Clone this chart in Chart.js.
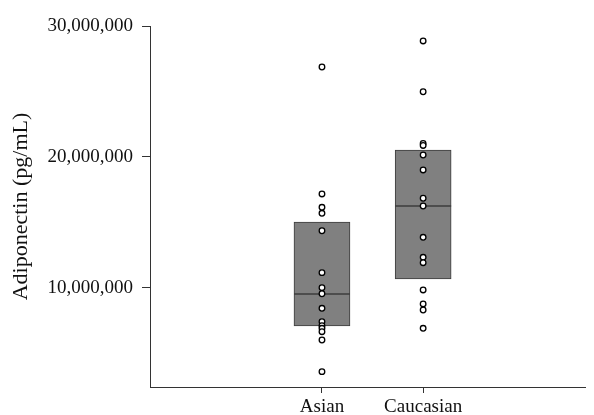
<!DOCTYPE html>
<html>
<head>
<meta charset="utf-8">
<script src="https://cdn.jsdelivr.net/npm/chart.js@4.4.0/dist/chart.umd.min.js"></script>
<style>
    html, body { margin: 0; padding: 0; background: #fff; }
    #wrap { width: 594px; height: 415px; }
</style>
</head>
<body>
<div id="wrap"><canvas id="chart"></canvas></div>
<script>
// values
const groups = ['Asian', 'Caucasian'];
const boxLow = [7.10e6, 10.69e6];
const boxHigh = [15.04e6, 20.53e6];
const medians = [9.54e6, 16.26e6];
const asianValues = [26.87e6, 17.18e6, 16.16e6, 15.70e6, 14.37e6, 11.17e6, 10.02e6, 9.56e6,
    8.45e6, 7.43e6, 7.12e6, 6.92e6, 6.66e6, 6.03e6, 3.61e6];
const caucasianValues = [28.86e6, 24.98e6, 21.03e6, 20.88e6, 20.15e6, 19.01e6, 16.85e6, 16.26e6,
    13.87e6, 12.34e6, 11.93e6, 9.85e6, 8.78e6, 8.32e6, 6.92e6];
const yTicks = [10000000, 20000000, 30000000];

const FONT = '"Liberation Serif", "Times New Roman", serif';
const AXIS = '#333333';

const pointData = [];
asianValues.forEach(v => pointData.push({ x: 1, y: v }));
caucasianValues.forEach(v => pointData.push({ x: 2, y: v }));

new Chart(document.getElementById('chart').getContext('2d'), {
    type: 'bar',
    data: {
        datasets: [
            {
                type: 'bar',
                label: 'IQR',
                data: groups.map((g, i) => ({ x: i + 1, y: [boxLow[i], boxHigh[i]] })),
                backgroundColor: '#808080',
                borderColor: '#3c3c3c',
                borderWidth: 1,
                borderSkipped: false,
                barThickness: 56,
                order: 3
            },
            {
                type: 'scatter',
                label: 'Median',
                data: groups.map((g, i) => ({ x: i + 1, y: medians[i] })),
                pointStyle: 'line',
                pointRadius: 28,
                pointBorderColor: '#3c3c3c',
                pointBorderWidth: 1.5,
                showLine: false,
                order: 2
            },
            {
                type: 'scatter',
                label: 'Samples',
                data: pointData,
                pointRadius: 2.8,
                pointBackgroundColor: '#ffffff',
                pointBorderColor: '#000000',
                pointBorderWidth: 1.3,
                showLine: false,
                order: 1
            }
        ]
    },
    options: {
        responsive: true,
        maintainAspectRatio: false,
        animation: false,
        layout: { autoPadding: false, padding: { left: 0, top: 26, right: 9, bottom: 0 } },
        plugins: {
            legend: { display: false },
            tooltip: { enabled: false }
        },
        scales: {
            x: {
                type: 'linear',
                offset: false,
                min: -0.70,
                max: 3.60,
                grid: { display: true, offset: false, drawOnChartArea: false, drawTicks: true, tickLength: 6, color: AXIS },
                border: { display: true, color: AXIS, width: 1 },
                ticks: {
                    font: { family: FONT, size: 19 },
                    color: '#111',
                    padding: 3,
                    maxRotation: 0,
                    autoSkip: false,
                    callback: v => groups[v - 1] || ''
                },
                afterBuildTicks: s => { s.ticks = groups.map((g, i) => ({ value: i + 1 })); },
                afterFit: s => { s.height = 28; }
            },
            y: {
                type: 'linear',
                min: 2.44e6,
                max: 30e6,
                grid: { display: true, drawOnChartArea: false, drawTicks: true, tickLength: 8, color: AXIS },
                border: { display: true, color: AXIS, width: 1 },
                ticks: {
                    font: { family: FONT, size: 19 },
                    color: '#111',
                    padding: 9,
                    callback: v => v.toLocaleString('en-US')
                },
                afterBuildTicks: s => { s.ticks = yTicks.map(v => ({ value: v })); },
                afterFit: s => { s.width = 150; },
                title: {
                    display: true,
                    text: 'Adiponectin (pg/mL)',
                    font: { family: FONT, size: 22 },
                    color: '#111',
                    padding: { top: 8, bottom: 0 }
                }
            }
        }
    }
});
</script>
</body>
</html>
